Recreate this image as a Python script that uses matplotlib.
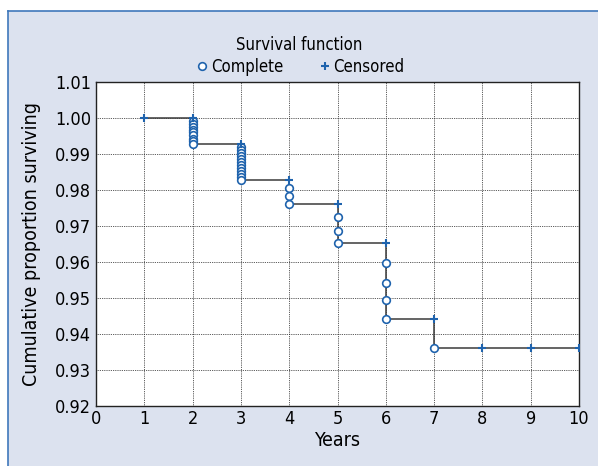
import matplotlib
matplotlib.use("Agg")
import matplotlib.pyplot as plt
from matplotlib.patches import Rectangle
from matplotlib.lines import Line2D

plt.rcParams['font.family'] = ['DejaVu Sans']
plt.rcParams['font.stretch'] = 'condensed'

# step curve of the survival function
step_years = [1, 2, 3, 4, 5, 6, 7, 10]
step_surv = [1.0, 0.9927, 0.9828, 0.9762, 0.9652, 0.9442, 0.9361, 0.9361]

# complete (event) observations
complete_years = [2, 2, 2, 2, 2, 2, 2, 2, 2,
                  3, 3, 3, 3, 3, 3, 3, 3, 3, 3, 3, 3,
                  4, 4, 4,
                  5, 5, 5,
                  6, 6, 6, 6,
                  7]
complete_surv = [0.9993, 0.9984, 0.9976, 0.9968, 0.9960, 0.9952, 0.9943, 0.9935, 0.9927,
                 0.9920, 0.9912, 0.9903, 0.9895, 0.9887, 0.9878, 0.9870, 0.9862, 0.9853, 0.9845, 0.9836, 0.9828,
                 0.9805, 0.9783, 0.9762,
                 0.9726, 0.9687, 0.9652,
                 0.9598, 0.9543, 0.9495, 0.9442,
                 0.9361]

# censored observations
censored_years = [1, 2, 3, 4, 5, 6, 7, 8, 9, 10]
censored_surv = [1.0, 1.0, 0.9927, 0.9828, 0.9762, 0.9652, 0.9442, 0.9361, 0.9361, 0.9361]

blue = '#1f63ad'
bg = '#dce2ef'

fig = plt.figure(figsize=(5.98, 4.66), dpi=100)
fig.patch.set_facecolor('white')
# panel background with blue border on left/top
fig.patches.append(Rectangle((8/598, 0), 1, 1 - 11/466, transform=fig.transFigure,
                             facecolor=bg, edgecolor='none', zorder=-5))
fig.lines.append(Line2D([8/598, 8/598], [0, 1 - 11/466], transform=fig.transFigure,
                        color='#3f78bb', lw=1.2, zorder=-4))
fig.lines.append(Line2D([8/598, 1], [1 - 11/466, 1 - 11/466], transform=fig.transFigure,
                        color='#3f78bb', lw=1.2, zorder=-4))

ax = fig.add_axes([96/598, 1 - 406/466, (579 - 96)/598, (406 - 82)/466])
ax.set_zorder(1)
ax.set_facecolor('white')

ax.plot(step_years, step_surv, drawstyle='steps-post', color='#3a3a3a', lw=1.1, zorder=2)
ax.plot(complete_years, complete_surv, 'o', ls='none', ms=5.5, mfc='white', mec=blue,
        mew=1.2, zorder=3, label='Complete')
ax.plot(censored_years, censored_surv, '+', ls='none', ms=6, mec=blue, mew=1.5,
        zorder=4, label='Censored')

ax.set_xlim(0, 10)
ax.set_ylim(0.92, 1.01)
ax.set_xticks(range(0, 11))
ax.set_yticks([0.92, 0.93, 0.94, 0.95, 0.96, 0.97, 0.98, 0.99, 1.00, 1.01])
ax.set_yticklabels(['0.92', '0.93', '0.94', '0.95', '0.96', '0.97', '0.98', '0.99', '1.00', '1.01'])
ax.grid(True, color='#222222', ls=(0, (1, 1.2)), lw=0.6)
ax.tick_params(length=0, labelsize=13)
ax.tick_params(axis='x', pad=3)
for sp in ax.spines.values():
    sp.set_color('#222222')
    sp.set_linewidth(1.0)

ax.set_xlabel('Years', fontsize=14, labelpad=2)
ax.set_ylabel('Cumulative proportion surviving', fontsize=14, labelpad=10)

leg = fig.legend(loc='center', bbox_to_anchor=(0.5, 1 - 56/466), ncol=2, frameon=False,
                 title='Survival function', fontsize=12, title_fontsize=12,
                 handletextpad=0.0, columnspacing=2.0, handlelength=1.0, borderpad=0,
                 labelspacing=0.2)

fig.savefig('out.png', dpi=100, facecolor='white')
